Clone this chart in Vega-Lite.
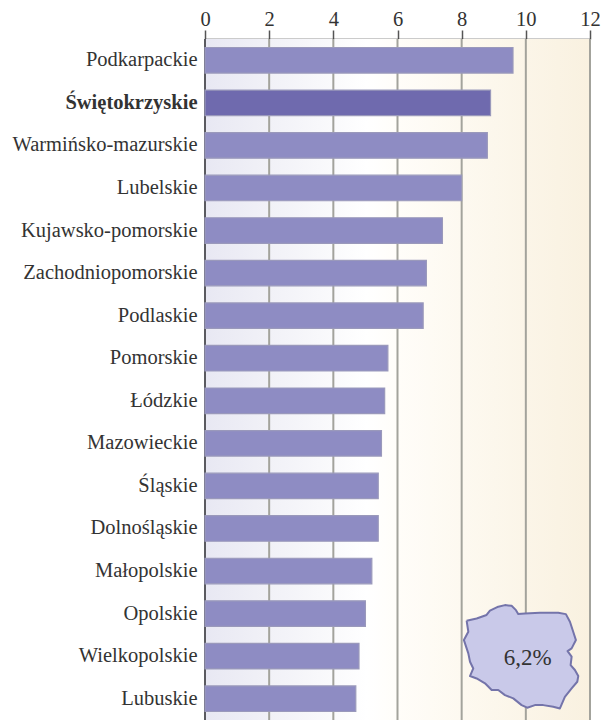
{"$schema":"https://vega.github.io/schema/vega-lite/v6.json","width":385,"height":681,"autosize":"none","padding":{"left":205,"top":39,"right":12,"bottom":0},"background":"white","view":{"stroke":null},"layer":[{"layer":[{"data":{"values":[{"start":0,"end":12}]},"mark":{"type":"rect","fill":{"gradient":"linear","x1":0,"y1":0,"x2":1,"y2":0,"stops":[{"offset":0,"color":"#e8e8f3"},{"offset":0.167,"color":"#f1f1f7"},{"offset":0.333,"color":"#fafafc"},{"offset":0.42,"color":"#ffffff"},{"offset":0.5,"color":"#fffdf9"},{"offset":0.667,"color":"#fdf9f0"},{"offset":0.833,"color":"#fbf5e8"},{"offset":1,"color":"#f9f1e0"}]}},"encoding":{"x":{"field":"start","type":"quantitative","scale":{"domain":[0,12],"nice":false},"axis":{"orient":"top","title":null,"values":[0,2,4,6,8,10,12],"grid":false,"tickSize":9,"tickColor":"#555555","tickWidth":1.5,"domainColor":"#333333","domainWidth":1.5,"labelFont":"Liberation Serif","labelFontSize":20.5,"labelColor":"#333333","labelPadding":1,"labelFlush":false,"labelOverlap":false}},"x2":{"field":"end"}}},{"data":{"values":[{"tick":0},{"tick":2},{"tick":4},{"tick":6},{"tick":8},{"tick":10},{"tick":12}]},"mark":{"type":"rule","strokeWidth":2},"encoding":{"x":{"field":"tick","type":"quantitative"},"color":{"condition":{"test":"datum.tick===0","value":"#5a5a60"},"value":"#a3a39c"}}},{"data":{"values":[{"region":"Podkarpackie","value":9.6},{"region":"Świętokrzyskie","value":8.9},{"region":"Warmińsko-mazurskie","value":8.8},{"region":"Lubelskie","value":8.0},{"region":"Kujawsko-pomorskie","value":7.4},{"region":"Zachodniopomorskie","value":6.9},{"region":"Podlaskie","value":6.8},{"region":"Pomorskie","value":5.7},{"region":"Łódzkie","value":5.6},{"region":"Mazowieckie","value":5.5},{"region":"Śląskie","value":5.4},{"region":"Dolnośląskie","value":5.4},{"region":"Małopolskie","value":5.2},{"region":"Opolskie","value":5.0},{"region":"Wielkopolskie","value":4.8},{"region":"Lubuskie","value":4.7}]},"mark":{"type":"bar","stroke":"#9a99bb","strokeWidth":1.2},"encoding":{"y":{"field":"region","type":"nominal","sort":null,"scale":{"paddingInner":0.4,"paddingOuter":0.2},"axis":{"title":null,"orient":"left","ticks":false,"domain":false,"labelFont":"Liberation Serif","labelFontSize":20.5,"labelColor":"#333333","labelPadding":8,"labelLimit":220,"labelFontWeight":{"condition":{"test":"datum.value==='Świętokrzyskie'","value":"bold"},"value":"normal"}}},"x":{"field":"value","type":"quantitative"},"color":{"condition":{"test":"datum.region==='Świętokrzyskie'","value":"#6f6aae"},"value":"#8e8cc3"}}}]},{"layer":[{"data":{"values":[{"i":0,"lon":14.18,"lat":53.82},{"i":1,"lon":15.07,"lat":53.95},{"i":2,"lon":15.95,"lat":54.15},{"i":3,"lon":16.25,"lat":54.4},{"i":4,"lon":16.99,"lat":54.63},{"i":5,"lon":17.58,"lat":54.72},{"i":6,"lon":18.17,"lat":54.68},{"i":7,"lon":18.56,"lat":54.43},{"i":8,"lon":18.76,"lat":54.2},{"i":9,"lon":19.36,"lat":54.24},{"i":10,"lon":20.69,"lat":54.28},{"i":11,"lon":22.31,"lat":54.28},{"i":12,"lon":22.99,"lat":54.2},{"i":13,"lon":23.35,"lat":53.76},{"i":14,"lon":23.64,"lat":53.18},{"i":15,"lon":23.88,"lat":52.7},{"i":16,"lon":23.5,"lat":52.22},{"i":17,"lon":23.14,"lat":52.06},{"i":18,"lon":23.5,"lat":51.74},{"i":19,"lon":23.41,"lat":51.25},{"i":20,"lon":23.79,"lat":50.97},{"i":21,"lon":24.09,"lat":50.62},{"i":22,"lon":24.0,"lat":50.29},{"i":23,"lon":23.5,"lat":49.91},{"i":24,"lon":22.9,"lat":49.42},{"i":25,"lon":22.46,"lat":48.75},{"i":26,"lon":21.87,"lat":48.85},{"i":27,"lon":20.98,"lat":48.94},{"i":28,"lon":20.24,"lat":48.94},{"i":29,"lon":19.56,"lat":48.79},{"i":30,"lon":19.06,"lat":48.94},{"i":31,"lon":18.32,"lat":49.33},{"i":32,"lon":17.58,"lat":49.52},{"i":33,"lon":16.99,"lat":49.81},{"i":34,"lon":16.4,"lat":49.81},{"i":35,"lon":15.81,"lat":50.2},{"i":36,"lon":15.07,"lat":50.48},{"i":37,"lon":14.48,"lat":50.62},{"i":38,"lon":14.77,"lat":51.06},{"i":39,"lon":14.48,"lat":51.45},{"i":40,"lon":14.33,"lat":51.93},{"i":41,"lon":13.94,"lat":52.7},{"i":42,"lon":14.33,"lat":53.18},{"i":43,"lon":14.18,"lat":53.82}]},"mark":{"type":"line","fill":"#c9c9e9","stroke":"#7474aa","strokeWidth":2,"strokeJoin":"round"},"encoding":{"x":{"field":"lon","type":"quantitative","scale":{"domain":[-9.04,25.13],"nice":false,"zero":false},"axis":null},"y":{"field":"lat","type":"quantitative","scale":{"domain":[48.08,87.44],"nice":false,"zero":false},"axis":null},"order":{"field":"i","type":"ordinal"}}},{"data":{"values":[{"lon":19.59,"lat":51.64,"label":"6,2%"}]},"mark":{"type":"text","font":"Liberation Serif","fontSize":23,"color":"#333333"},"encoding":{"x":{"field":"lon","type":"quantitative"},"y":{"field":"lat","type":"quantitative"},"text":{"field":"label"}}}]}],"resolve":{"scale":{"x":"independent","y":"independent"},"axis":{"x":"independent","y":"independent"}}}
